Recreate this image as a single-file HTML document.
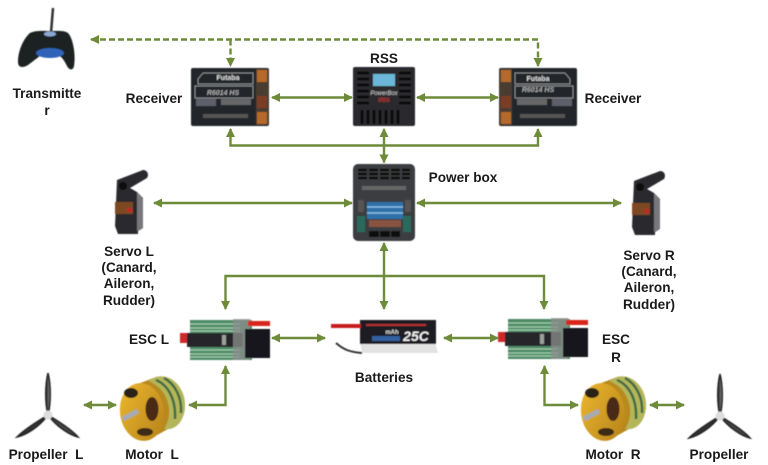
<!DOCTYPE html>
<html><head><meta charset="utf-8"><style>html,body{margin:0;padding:0;background:#fff}svg{display:block}text{font-family:"Liberation Sans",sans-serif}.l{font-size:13.6px;font-weight:700;fill:#1a1a1a;text-anchor:middle}</style></head><body>
<svg width="768" height="465" viewBox="0 0 768 465" xmlns="http://www.w3.org/2000/svg">
<defs>
<filter id="b" x="-5%" y="-5%" width="110%" height="110%"><feGaussianBlur stdDeviation="0.5"/></filter>
<marker id="a" markerWidth="10" markerHeight="10" refX="8" refY="4.500" orient="auto-start-reverse" markerUnits="userSpaceOnUse"><path d="M0 0L9 4.500L0 9Z" fill="#6e8b3a"/></marker>
<linearGradient id="gold" x1="0" y1="0" x2="1" y2="1"><stop offset="0" stop-color="#eeb92f"/><stop offset="1" stop-color="#b5811a"/></linearGradient>
<linearGradient id="blade" x1="0" y1="0" x2="1" y2="0"><stop offset="0" stop-color="#222"/><stop offset="1" stop-color="#888"/></linearGradient>
<g id="rx"><rect x="0" y="0" width="78" height="58" rx="2" fill="#24262a"/><rect x="65" y="1" width="13" height="56" fill="#4a3c30"/><rect x="66" y="2" width="10" height="12" fill="#b5692a"/><rect x="66" y="28" width="10" height="12" fill="#7b3c28"/><rect x="66" y="44" width="10" height="12" fill="#b5692a"/><path d="M7 11L12 5H62V16H7ZM4 18H62V30H4Z" fill="none" stroke="#8a8a8a"/><rect x="5" y="30" width="20" height="8" fill="#778" opacity=".7"/><rect x="30" y="31" width="30" height="6" fill="#666"/><rect x="12" y="46" width="45" height="4" fill="#555"/></g>
<g id="esc"><rect x="10" y="1" width="62" height="40" fill="#4e8a66"/><path d="M10 5H60M10 9H60M10 12H60M10 31H60M10 35H60M10 38H60" stroke="#a5cfae" stroke-width="1.300"/><rect x="0" y="14" width="8" height="10" fill="#cf2a2a"/><rect x="7" y="14" width="56" height="14" fill="#26282a"/><rect x="42" y="16" width="4" height="10" fill="#9aa09a"/><rect x="53" y="0" width="17" height="41" fill="#8d8d8d" opacity=".75"/><rect x="68" y="2" width="22" height="5" fill="#d8251f"/><rect x="65" y="10" width="25" height="29" fill="#17181a"/></g>
<g id="motor"><path d="M10 12L36 2C52-2 66 14 65 32C64 46 56 54 48 54L30 64Z" fill="#b8891f"/><path d="M36 2C52-2 66 14 65 32C64 46 56 54 48 54L44 54C54 40 50 14 28 6Z" fill="#b4b65a"/><path d="M36 5C48 10 56 24 55 44M44 3C55 9 62 22 61 38" fill="none" stroke="#3f6b45" stroke-width="2.500"/><ellipse cx="22" cy="37" rx="22" ry="29" transform="rotate(-8 22 37)" fill="url(#gold)"/><ellipse cx="32" cy="34" rx="6.500" ry="12" fill="#4a2a18"/><ellipse cx="11" cy="18" rx="7" ry="5" fill="#2c2018"/><ellipse cx="25" cy="57" rx="8" ry="4" fill="#3a2a16"/><path d="M3 44L18 36" stroke="#a6abb2" stroke-width="5"/></g>
<g id="prop"><path d="M0 0C-3-12-3-30 0-42C3-30 3-12 0 0Z" fill="url(#blade)" stroke="#222" stroke-width="1.500"/><path d="M0 0C-10 6-24 15-31 22C-22 20-9 12 0 0Z" fill="#333" stroke="#222" stroke-width="1.500"/><path d="M0 0C10 6 24 15 30 22C22 20 9 12 0 0Z" fill="#444" stroke="#222" stroke-width="1.500"/><circle r="4.500" fill="#ddd"/></g>
</defs>
<rect width="768" height="465" fill="#fff"/>

<g filter="url(#b)">
<!-- transmitter -->
<path d="M53 8L51 33" stroke="#333" stroke-width="2.500"/>
<path d="M30 33C36 30 44 31 50 31C56 31 64 30 68 33C73 38 76 55 74 66C73 71 69 70 67 66C64 60 62 57 58 55C52 51 47 51 41 55C36 59 32 62 28 65C23 68 18 68 18 62C18 50 24 38 30 33Z" fill="#1e2024"/>
<ellipse cx="50" cy="53" rx="14" ry="5" fill="#2f63b8"/><ellipse cx="50" cy="34" rx="6" ry="2.500" fill="#8aa8d5"/>

<g transform="translate(191 68)"><use href="#rx"/><text x="37" y="12" font-size="7" font-weight="700" fill="#ddd" text-anchor="middle">Futaba</text><text x="32" y="27" font-size="7" font-weight="700" font-style="italic" fill="#aaa" text-anchor="middle">R6014 HS</text></g>
<g transform="translate(577 68) scale(-1 1)"><use href="#rx"/></g>
<text x="538" y="81" font-size="7" font-weight="700" fill="#ddd" text-anchor="middle">Futaba</text>
<text x="538" y="92" font-size="7" font-weight="700" font-style="italic" fill="#aaa" text-anchor="middle">R6014 HS</text>

<!-- RSS -->
<rect x="353" y="67" width="62" height="59" rx="2" fill="#2a2b2e"/>
<rect x="373" y="74" width="22" height="12" fill="#6cb8da"/>
<path d="M357 73H369M357 79H369M357 85H369M357 91H369M357 97H369M357 103H369M399 73H411M399 79H411M399 85H411M399 91H411M399 97H411M399 103H411" stroke="#111" stroke-width="3"/>
<text x="384" y="95" font-size="6" font-style="italic" fill="#ccc" text-anchor="middle">PowerBox</text>
<text x="384" y="102" font-size="6" font-weight="700" fill="#b33" text-anchor="middle">iRIS</text>
<path d="M362 110V124M368 110V124M374 110V124M380 110V124M386 110V124M392 110V124M398 110V124" stroke="#111" stroke-width="3"/>

<!-- power box -->
<rect x="353" y="164" width="62" height="77" rx="5" fill="#3a3c40"/>
<path d="M358 170H410M358 174H410M358 178H410" stroke="#111" stroke-width="2.500" stroke-dasharray="9 2"/>
<rect x="367" y="202" width="36" height="17" fill="#2f6fa8"/><path d="M367 207H403M367 213H403" stroke="#8cc0e4" stroke-width="1.500"/>
<rect x="369" y="220" width="32" height="7" fill="#8a5240"/>
<rect x="357" y="216" width="8" height="16" fill="#2c6a5c"/><rect x="403" y="216" width="8" height="16" fill="#2c6a5c"/>
<path d="M369 234H379M380 234H390M391 234H400" stroke="#111" stroke-width="6"/>
<rect x="362" y="186" width="44" height="4" fill="#666"/>
<rect x="358" y="200" width="6" height="12" fill="#555"/><rect x="405" y="200" width="6" height="12" fill="#555"/>

<!-- servo L -->
<path d="M117 180L143 170C148 170 149 175 147 178L130 188L137 192L143 198V228L138 231V234H118L115 226Z" fill="#2b2b2f"/><path d="M137 192L143 198V228L137 231Z" fill="#77777c"/><circle cx="123" cy="186" r="4" fill="#0d0d0d"/><rect x="115" y="202" width="18" height="12" fill="#7b4a20"/><rect x="127" y="208" width="5" height="4" fill="#c0282a"/>
<!-- servo R -->
<path d="M634 180L660 170C665 170 666 175 664 178L647 188L654 192L660 198V228L655 231V234H635L632 226Z" fill="#2b2b2f" transform="translate(0 1)"/><path d="M654 193L660 199V229L654 232Z" fill="#77777c"/><circle cx="640" cy="187" r="4" fill="#0d0d0d"/><rect x="632" y="203" width="18" height="12" fill="#7b4a20"/><rect x="644" y="209" width="5" height="4" fill="#c0282a"/>

<!-- esc -->
<g transform="translate(180 319)"><use href="#esc"/></g>
<g transform="translate(498 318)"><use href="#esc"/></g>

<!-- battery -->
<path d="M360 342H435L438 353H362Z" fill="#e2e2e2"/>
<rect x="360" y="320" width="76" height="24" fill="#1c1d21"/>
<path d="M331 326H361" stroke="#c81e1e" stroke-width="4"/><path d="M336 343C344 350 350 352 362 353" stroke="#333" stroke-width="2" fill="none"/>
<text x="416" y="341" font-size="14" font-weight="700" font-style="italic" fill="#eee" text-anchor="middle">25C</text>
<rect x="372" y="336" width="28" height="5" fill="#3060a0"/><rect x="366" y="324" width="60" height="2" fill="#b53030"/>
<text x="392" y="334" font-size="6" font-weight="700" fill="#ddd" text-anchor="middle">mAh</text>

<!-- motors, props -->
<g transform="translate(120 375)"><use href="#motor"/></g>
<g transform="translate(581 375)"><use href="#motor"/></g>
<g transform="translate(48 415)"><use href="#prop"/></g>
<g transform="translate(720 416)"><use href="#prop"/></g>
</g>

<!-- connectors -->
<g fill="none" stroke="#6e8b3a" stroke-width="2.400">
<g stroke-dasharray="6 3">
<path d="M91 39.500H538V66" marker-start="url(#a)" marker-end="url(#a)"/>
<path d="M230.500 39.500V66" marker-end="url(#a)"/>
</g>
<path d="M272 97.500H352" marker-start="url(#a)" marker-end="url(#a)"/>
<path d="M417 97.500H498" marker-start="url(#a)" marker-end="url(#a)"/>
<path d="M230.500 129V145.500H538V129" marker-start="url(#a)" marker-end="url(#a)"/>
<path d="M384 129V162.500" marker-start="url(#a)" marker-end="url(#a)"/>
<path d="M154 203H352" marker-start="url(#a)" marker-end="url(#a)"/>
<path d="M417 203H621" marker-start="url(#a)" marker-end="url(#a)"/>
<path d="M384 243V309" marker-start="url(#a)" marker-end="url(#a)"/>
<path d="M225.500 309V276H544V309" marker-start="url(#a)" marker-end="url(#a)"/>
<path d="M272 338H325" marker-start="url(#a)" marker-end="url(#a)"/>
<path d="M444 338H498" marker-start="url(#a)" marker-end="url(#a)"/>
<path d="M84 405H116" marker-start="url(#a)" marker-end="url(#a)"/>
<path d="M189 405H225.500V366" marker-start="url(#a)" marker-end="url(#a)"/>
<path d="M544.500 366V405H578" marker-start="url(#a)" marker-end="url(#a)"/>
<path d="M650 405H684" marker-start="url(#a)" marker-end="url(#a)"/>
</g>

<!-- labels -->
<text class="l" x="47" y="98">Transmitte</text><text class="l" x="47" y="115">r</text>
<text class="l" x="154" y="103">Receiver</text>
<text class="l" x="384" y="63">RSS</text>
<text class="l" x="613" y="103">Receiver</text>
<text class="l" x="463" y="182">Power box</text>
<text class="l" x="129" y="256">Servo L</text>
<text class="l" x="129" y="272">(Canard,</text>
<text class="l" x="129" y="288">Aileron,</text>
<text class="l" x="129" y="305">Rudder)</text>
<text class="l" x="649" y="260">Servo R</text>
<text class="l" x="649" y="276">(Canard,</text>
<text class="l" x="649" y="292">Aileron,</text>
<text class="l" x="649" y="309">Rudder)</text>
<text class="l" x="149" y="344">ESC L</text>
<text class="l" x="616" y="344">ESC</text><text class="l" x="616" y="362">R</text>
<text class="l" x="384" y="382">Batteries</text>
<text class="l" x="46" y="459">Propeller&#160; L</text>
<text class="l" x="152" y="459">Motor&#160; L</text>
<text class="l" x="613" y="459">Motor&#160; R</text>
<text class="l" x="719" y="459">Propeller</text>
</svg>
</body></html>
